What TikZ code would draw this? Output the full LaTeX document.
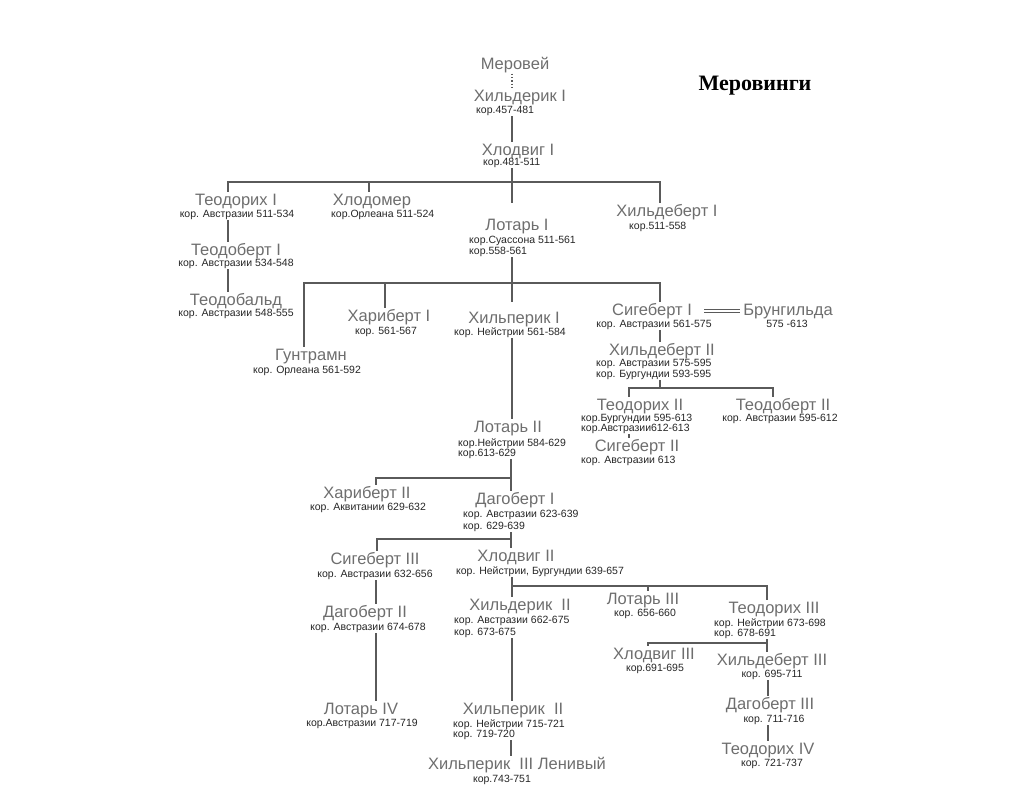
\documentclass[tikz,border=0pt]{standalone}
\usepackage{fontspec}
\setmainfont{Liberation Sans}
\newfontfamily\titlefont{Liberation Serif}
\usepackage{tikz}
\definecolor{kinggray}{HTML}{6E6E6E}
\definecolor{linegray}{HTML}{5A5A5A}

\begin{document}
\begin{tikzpicture}[x=1pt, y=-1pt,
    king/.style = {font=\fontsize{16.5}{18}\selectfont, text=kinggray, inner sep=1pt, anchor=base, text height=12pt, text depth=3.5pt},
    reign/.style = {font=\fontsize{10.5}{12}\selectfont, text=black!85, inner sep=1pt, anchor=base, text height=7.5pt, text depth=2pt},
    link/.style = {draw=linegray, line width=1.3pt}]
            \useasboundingbox (0,0) rectangle (1023,788);
            % Nodes
            \node[font=\titlefont\bfseries\fontsize{22}{24}\selectfont, anchor=base] (ttl) at (755,90) {Меровинги};
            \node[king] (mer) at (515,69) {Меровей};
            \node[king] (hld1) at (520,101) {Хильдерик I};
            \node[reign, anchor=base west] (hld1s) at (475,113) {кор.457-481};
            \node[king] (hlv1) at (518,155) {Хлодвиг I};
            \node[reign, anchor=base west] (hlv1s) at (482,165) {кор.481-511};
            \node[king] (teo1) at (236,205) {Теодорих I};
            \node[reign] (teo1s) at (237,217) {кор. Австразии 511-534};
            \node[king] (hlm) at (372,205) {Хлодомер};
            \node[reign, anchor=base west] (hlms) at (330,217) {кор.Орлеана 511-524};
            \node[king] (lot1) at (517,230) {Лотарь I};
            \node[reign, anchor=base west] (lot1s) at (468,243) {кор.Суассона 511-561};
            \node[reign, anchor=base west] (lot1t) at (468,254) {кор.558-561};
            \node[king] (hlb1) at (667,216) {Хильдеберт I};
            \node[reign, anchor=base west] (hlb1s) at (628,229) {кор.511-558};
            \node[king] (tdb1) at (236,255) {Теодоберт I};
            \node[reign] (tdb1s) at (236,266) {кор. Австразии 534-548};
            \node[king] (tdbl) at (236,305) {Теодобальд};
            \node[reign] (tdbls) at (236,316) {кор. Австразии 548-555};
            \node[king] (gnt) at (311,360) {Гунтрамн};
            \node[reign] (gnts) at (307,373) {кор. Орлеана 561-592};
            \node[king] (har1) at (389,321) {Хариберт I};
            \node[reign] (har1s) at (386,334) {кор. 561-567};
            \node[king] (hlp1) at (514,323) {Хильперик I};
            \node[reign] (hlp1s) at (510,335) {кор. Нейстрии 561-584};
            \node[king] (sig1) at (652,315) {Сигеберт I};
            \node[reign] (sig1s) at (654,327) {кор. Австразии 561-575};
            \node[king] (brn) at (788,315) {Брунгильда};
            \node[reign] (brns) at (787,327) {575 -613};
            \node[king] (hlb2) at (662,355) {Хильдеберт II};
            \node[reign, anchor=base west] (hlb2s) at (595,366) {кор. Австразии 575-595};
            \node[reign, anchor=base west] (hlb2t) at (595,377) {кор. Бургундии 593-595};
            \node[king] (tdr2) at (640,410) {Теодорих II};
            \node[reign, anchor=base west] (tdr2s) at (580,421) {кор.Бургундии 595-613};
            \node[reign, anchor=base west] (tdr2t) at (580,431) {кор.Австразии612-613};
            \node[king] (tdb2) at (783,410) {Теодоберт II};
            \node[reign] (tdb2s) at (780,421) {кор. Австразии 595-612};
            \node[king] (sig2) at (637,451) {Сигеберт II};
            \node[reign, anchor=base west] (sig2s) at (580,463) {кор. Австразии 613};
            \node[king] (lot2) at (508,432) {Лотарь II};
            \node[reign, anchor=base west] (lot2s) at (457,446) {кор.Нейстрии 584-629};
            \node[reign, anchor=base west] (lot2t) at (457,456) {кор.613-629};
            \node[king] (har2) at (367,498) {Хариберт II};
            \node[reign] (har2s) at (368,510) {кор. Аквитании 629-632};
            \node[king] (dag1) at (515,504) {Дагоберт I};
            \node[reign, anchor=base west] (dag1s) at (462,517) {кор. Австразии 623-639};
            \node[reign, anchor=base west] (dag1t) at (462,529) {кор. 629-639};
            \node[king] (sig3) at (375,564) {Сигеберт III};
            \node[reign] (sig3s) at (375,577) {кор. Австразии 632-656};
            \node[king] (hlv2) at (516,561) {Хлодвиг II};
            \node[reign] (hlv2s) at (540,574) {кор. Нейстрии, Бургундии 639-657};
            \node[king] (dag2) at (365,617) {Дагоберт II};
            \node[reign] (dag2s) at (368,630) {кор. Австразии 674-678};
            \node[king] (lot4) at (361,714) {Лотарь IV};
            \node[reign] (lot4s) at (362,726) {кор.Австразии 717-719};
            \node[king] (hld2) at (520,610) {Хильдерик\ \ II};
            \node[reign, anchor=base west] (hld2s) at (453,623) {кор. Австразии 662-675};
            \node[reign, anchor=base west] (hld2t) at (453,635) {кор. 673-675};
            \node[king] (lot3) at (643,604) {Лотарь III};
            \node[reign] (lot3s) at (645,616) {кор. 656-660};
            \node[king] (tdr3) at (774,613) {Теодорих III};
            \node[reign, anchor=base west] (tdr3s) at (713,626) {кор. Нейстрии 673-698};
            \node[reign, anchor=base west] (tdr3t) at (713,636) {кор. 678-691};
            \node[king] (hlv3) at (654,659) {Хлодвиг III};
            \node[reign] (hlv3s) at (655,671) {кор.691-695};
            \node[king] (hlb3) at (772,665) {Хильдеберт III};
            \node[reign] (hlb3s) at (772,677) {кор. 695-711};
            \node[king] (dag3) at (770,709) {Дагоберт III};
            \node[reign] (dag3s) at (774,722) {кор. 711-716};
            \node[king] (tdr4) at (768,754) {Теодорих IV};
            \node[reign] (tdr4s) at (772,766) {кор. 721-737};
            \node[king] (hlp2) at (513,714) {Хильперик\ \ II};
            \node[reign, anchor=base west] (hlp2s) at (452,727) {кор. Нейстрии 715-721};
            \node[reign, anchor=base west] (hlp2t) at (452,737) {кор. 719-720};
            \node[king] (hlp3) at (517,769) {Хильперик\ \ III Ленивый};
            \node[reign] (hlp3s) at (502,782) {кор.743-751};
            % Joints
            \coordinate (j1) at (512,182);
            \coordinate (j2) at (512,283);
            \coordinate (j3) at (660,388);
            \coordinate (j4) at (511,478);
            \coordinate (j5) at (511,539);
            \coordinate (j6) at (512,586);
            \coordinate (j7) at (767,643);
            % Edges
            \draw[link, dotted] (mer.south -| j1) -- (hld1.north -| j1);
            \draw[link] (hld1s.south -| j1) -- (hlv1.north -| j1);
            \draw[link, shorten >=14pt] (hlv1s.south -| j1) -- (lot1.north -| j1);
            \draw[link] (teo1.north -| 228,0) |- (j1) -| (hlb1.north -| 660,0);
            \draw[link] (j1 -| 369,0) -- (hlm.north -| 369,0);
            \draw[link] (teo1s.south -| 228,0) -- (tdb1.north -| 228,0);
            \draw[link] (tdb1s.south -| 228,0) -- (tdbl.north -| 228,0);
            \draw[link, shorten >=8pt] (lot1t.south -| j2) -- (hlp1.north -| j2);
            \draw[link] (gnt.north -| 304,0) |- (j2) -| (sig1.north -| 660,0);
            \draw[link] (j2 -| 385,0) -- (har1.north -| 385,0);
            \draw[draw=linegray, line width=0.9pt, double, double distance=2.4pt, shorten <=11pt, shorten >=2pt] (sig1.east) -- (brn.west);
            \draw[link] (sig1s.south -| j3) -- (hlb2.north -| j3);
            \draw[link] (hlb2t.south -| j3) -- (j3);
            \draw[link] (tdr2.north -| 629,0) |- (j3) -| (tdb2.north -| 773,0);
            \draw[link] (tdr2t.south -| 629,0) -- (sig2.north -| 629,0);
            \draw[link] (hlp1s.south -| j2) -- (lot2.north -| j2);
            \draw[link] (lot2t.south -| j4) -- (dag1.north -| j4);
            \draw[link] (har2.north -| 376,0) |- (j4);
            \draw[link] (dag1t.south -| j5) -- (hlv2.north -| j5);
            \draw[link] (sig3.north -| 377,0) |- (j5);
            \draw[link] (sig3s.south -| 376,0) -- (dag2.north -| 376,0);
            \draw[link] (dag2s.south -| 376,0) -- (lot4.north -| 376,0);
            \draw[link] (hlv2s.south -| j6) -- (hld2.north -| j6);
            \draw[link] (j6) -| (tdr3.north -| j7);
            \draw[link] (j6 -| 648,0) -- (lot3.north -| 648,0);
            \draw[link] (hld2t.south -| j6) -- (hlp2.north -| j6);
            \draw[link] (tdr3t.south -| j7) -- (hlb3.north -| j7);
            \draw[link] (hlv3.north -| 648,0) |- (j7);
            \draw[link] (hlb3s.south -| 768,0) -- (dag3.north -| 768,0);
            \draw[link] (dag3s.south -| 768,0) -- (tdr4.north -| 768,0);
            \draw[link] (hlp2t.south -| 511,0) -- (hlp3.north -| 511,0);
\end{tikzpicture}
\end{document}
